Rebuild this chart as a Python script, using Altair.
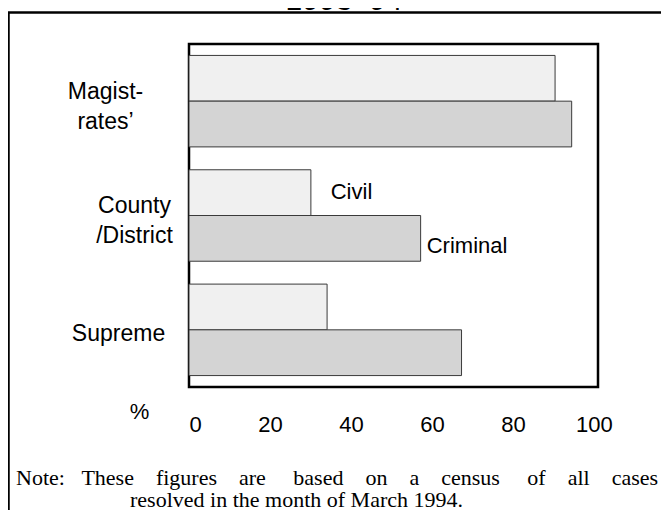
import altair as alt
import pandas as pd

# ---- data ----
courts = ["Magist-\nrates\u2019", "County\n/District", "Supreme"]
case_types = ["Civil", "Criminal"]
civil = [90.4, 30.1, 34.1]
criminal = [94.5, 57.2, 67.3]
x_ticks = [0, 20, 40, 60, 80, 100]

annot_court = "County\n/District"
annot_labels = ["Civil", "Criminal"]
annot_x = [35.0, 58.7]

title_text = "1993\u201394"
S3 = "\u00a0" * 3
S4 = "\u00a0" * 4
S5 = "\u00a0" * 5
note_line1 = ("Note:" + S3 + "These" + S4 + "figures" + S4 + "are" + S5 + "based" + S4 +
              "on" + S4 + "a" + S4 + "census" + S5 + "of" + S4 + "all" + S4 + "cases")
note_line2 = "resolved in the month of March 1994."

# ---- tables ----
rows = []
for c, v1, v2 in zip(courts, civil, criminal):
    rows.append({"court": c, "type": "Civil", "value": v1})
    rows.append({"court": c, "type": "Criminal", "value": v2})
df = pd.DataFrame(rows)

annot = pd.DataFrame({"court": [annot_court] * 2, "type": annot_labels,
                      "x": annot_x, "label": annot_labels})

SANS = "Liberation Sans"
SERIF = "Liberation Serif"

IS_SUP = "indexof(datum.value, 'Supreme') >= 0"
IS_CTY = "indexof(datum.value, 'County') >= 0"

y_axis = alt.Axis(
    labelExpr="split(datum.label, '\\n')", labelAlign="center", labelBaseline="middle",
    labelPadding={"condition": [{"test": IS_SUP, "value": 71},
                                {"test": IS_CTY, "value": 55}], "value": 84},
    labelOffset={"condition": {"test": IS_SUP, "value": 4}, "value": -9.5},
    labelLineHeight=30, labelFontSize=23, labelFont=SANS, labelColor="black",
    ticks=False, tickSize=0, domain=False, grid=False, labelLimit=300)

y_enc = alt.Y("court:N", sort=courts, title=None,
              scale=alt.Scale(paddingInner=0.2, paddingOuter=0.1), axis=y_axis)
yoff_enc = alt.YOffset("type:N", sort=case_types,
                       scale=alt.Scale(paddingInner=0, paddingOuter=0))

bars = alt.Chart(df).mark_bar(stroke="#3a3a3a", strokeWidth=1).encode(
    y=y_enc,
    yOffset=yoff_enc,
    x=alt.X("value:Q", scale=alt.Scale(domain=[0, 101], nice=False),
            axis=alt.Axis(values=x_ticks, title="%", titleX=-50, titleY=31,
                          titleAlign="center", titleBaseline="alphabetic", titleAngle=0,
                          titleFontSize=22, titleFontWeight="normal", titleFont=SANS,
                          titleColor="black", labelFontSize=22, labelFont=SANS,
                          labelColor="black", labelPadding=27, ticks=False, tickSize=0,
                          domain=False, grid=False)),
    color=alt.Color("type:N", scale=alt.Scale(domain=case_types,
                                              range=["#f0f0f0", "#d4d4d4"]), legend=None),
)

civil_lbl = alt.Chart(annot[annot["type"] == "Civil"]).mark_text(
    align="left", baseline="middle", fontSize=22, font=SANS, color="black", dy=-1
).encode(x="x:Q", y=alt.Y("court:N", sort=courts), yOffset=alt.YOffset("type:N", sort=case_types),
         text="label:N")
crim_lbl = alt.Chart(annot[annot["type"] == "Criminal"]).mark_text(
    align="left", baseline="middle", fontSize=22, font=SANS, color="black", dy=8
).encode(x="x:Q", y=alt.Y("court:N", sort=courts), yOffset=alt.YOffset("type:N", sort=case_types),
         text="label:N")

one = pd.DataFrame({"k": [0]})

top_line = alt.Chart(one).mark_rule(color="black", strokeWidth=2.5).encode(
    x=alt.value(-181), x2=alt.value(480), y=alt.value(-31.5))
left_line = alt.Chart(one).mark_rule(color="black", strokeWidth=2.5).encode(
    x=alt.value(-180.5), y=alt.value(-31.5), y2=alt.value(470))

title = alt.Chart(pd.DataFrame({"t": [title_text]})).mark_text(
    fontSize=30, font=SANS, color="black", align="center", baseline="alphabetic"
).encode(text="t:N", x=alt.value(155), y=alt.value(-34))

note1 = alt.Chart(pd.DataFrame({"t": [note_line1]})).mark_text(
    fontSize=22, font=SERIF, color="black", align="left", baseline="alphabetic"
).encode(text="t:N", x=alt.value(-173), y=alt.value(441))
note2 = alt.Chart(pd.DataFrame({"t": [note_line2]})).mark_text(
    fontSize=22, font=SERIF, color="black", align="left", baseline="alphabetic"
).encode(text="t:N", x=alt.value(-59), y=alt.value(462.5))

chart = alt.layer(bars, civil_lbl, crim_lbl, top_line, left_line, title, note1, note2).properties(
    width=409, height=343,
    autosize=alt.AutoSizeParams(type="none"),
    padding={"left": 181, "top": 36, "right": 63, "bottom": 123},
).configure(background="white").configure_view(stroke="black", strokeWidth=2.5)

chart.save("out.html", embed_options={"renderer": "svg", "actions": False})
